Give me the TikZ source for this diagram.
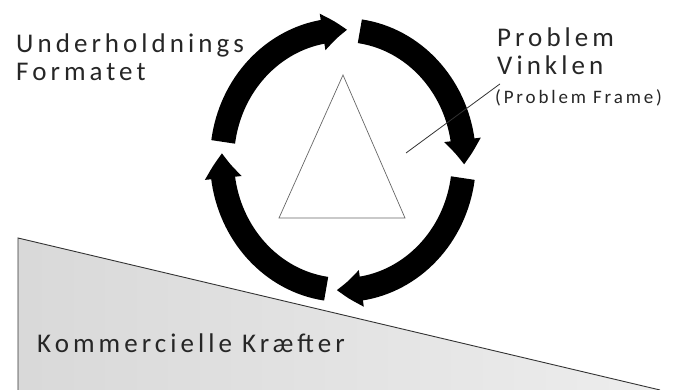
\documentclass[tikz,border=0pt]{standalone}
\usepackage{fontspec}
\setmainfont{Carlito}
\newfontfamily\lblfont[LetterSpace=15]{Carlito}
\usetikzlibrary{arrows.meta,bending,positioning,calc}

\begin{document}
\begin{tikzpicture}[
  x=1pt, y=1pt,
  lbl/.style={font=\lblfont\fontsize{27}{28}\selectfont, inner sep=0pt,
              align=left, text=black!85},
  sublbl/.style={font=\lblfont\fontsize{19}{20}\selectfont, inner sep=0pt,
                 text=black!85},
  cyc/.style={draw=black, line width=24pt,
              -{Triangle[length=25pt,width=35pt,bend]}},
  tri/.style={draw=black!60, line width=0.7pt},
  ptr/.style={draw=black!80, line width=0.8pt}
]
\useasboundingbox (0,0) rectangle (675,390);

% ---------- Market wedge ----------
\coordinate (wtl) at (18,152);
\coordinate (wbl) at (18,0);
\coordinate (wbr) at (660,0);
\shade[left color=gray!30, middle color=gray!4, right color=gray!14]
  (wtl) -- (wbr) -- (wbl) -- cycle;
\draw[black!80, line width=0.9pt] (wbl) -- (wtl) -- (wbr);
\node[lbl, anchor=base west] (mkt) at (37,37) {Kommercielle Kræfter};

% ---------- Problem frame triangle ----------
\coordinate (c) at (343,230);
\coordinate (ta) at (343,315);
\coordinate (tb) at (279,172);
\coordinate (tc) at (405,172);
\draw[tri] (ta) -- (tb) -- (tc) -- cycle;

% ---------- Cycle of arrows ----------
\foreach \s/\e in {172/88, 82/-2, -8/-93, -98/-183}
  \draw[cyc] ($(c)+(\s:121 and 130)$)
    arc[start angle=\s, end angle=\e, x radius=121, y radius=130];

% ---------- Labels ----------
% (base = baseline of the last line)
\node[lbl, anchor=base west] (fmt) at (16,309) {Underholdnings\\Formatet};
\node[lbl, anchor=base west] (prob) at (497,315) {Problem\\Vinklen};
\node[sublbl, anchor=base west] (frame) at (495,286) {(Problem Frame)};

\coordinate (tpt) at (406,237);
\draw[ptr] (tpt) -- ([xshift=5pt,yshift=6pt]frame.north west);

\end{tikzpicture}
\end{document}
